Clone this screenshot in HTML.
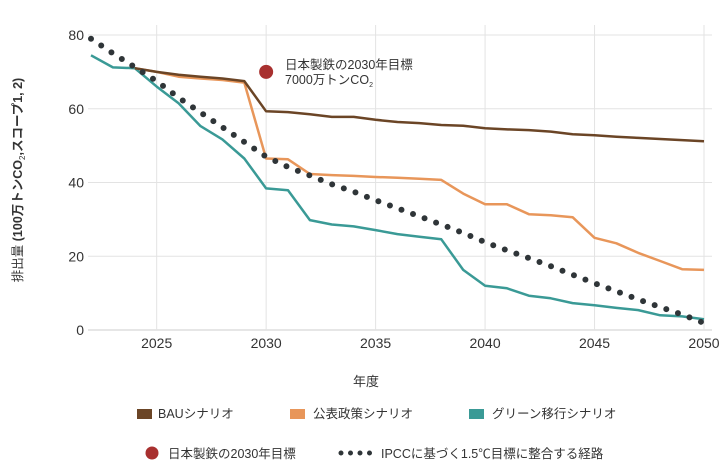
<!DOCTYPE html>
<html><head><meta charset="utf-8"><style>
body{margin:0;background:#fff;font-family:"Liberation Sans","Noto Sans CJK JP",sans-serif;}
svg text{font-family:"Liberation Sans","Noto Sans CJK JP",sans-serif;fill:#333;}
</style></head><body>
<svg id="chart" width="728" height="469">
<g id="grid"></g><g id="axes"></g><g id="series"></g>
<text x="366" y="386" font-size="13" text-anchor="middle">年度</text>
<text transform="translate(22,180) rotate(-90)" font-size="12.5" text-anchor="middle">排出量 <tspan font-weight="bold">(100万トンCO</tspan><tspan font-size="8" dy="3">2</tspan><tspan dy="-3" font-weight="bold">,スコープ1, 2)</tspan></text>
<g id="annotation">
<text x="285" y="69" font-size="12.5">日本製鉄の2030年目標</text>
<text x="285" y="84" font-size="12.5">7000万トンCO<tspan font-size="7" dy="3">2</tspan></text>
</g>
<g>
<rect x="137" y="409" width="15" height="10" fill="#6b4526"/>
<text x="158" y="418" font-size="12.5">BAUシナリオ</text>
<rect x="290" y="409" width="15" height="10" fill="#e8965a"/>
<text x="313" y="418" font-size="12.5">公表政策シナリオ</text>
<rect x="469" y="409" width="15" height="10" fill="#3a9a96"/>
<text x="492" y="418" font-size="12.5">グリーン移行シナリオ</text>
<circle cx="152" cy="453" r="6.5" fill="#a8302f"/>
<text x="168" y="458" font-size="12.5">日本製鉄の2030年目標</text>
<line x1="341" y1="453" x2="372" y2="453" stroke="#2f3538" stroke-width="5" stroke-linecap="round" stroke-dasharray="0 9.5"/>
<text x="381" y="458" font-size="12.5">IPCCに基づく1.5℃目標に整合する経路</text>
</g>
</svg>
<script>
const years=[2022,2023,2024,2025,2026,2027,2028,2029,2030,2031,2032,2033,2034,2035,2036,2037,2038,2039,2040,2041,2042,2043,2044,2045,2046,2047,2048,2049,2050];
const bau=[null,null,71,70,69.2,68.7,68.2,67.5,59.3,59.1,58.5,57.8,57.8,57,56.4,56.1,55.6,55.4,54.7,54.4,54.2,53.8,53.1,52.8,52.4,52.1,51.8,51.5,51.2];
const policy=[null,null,71,70,68.7,68.2,67.8,67.1,46.5,46.3,42.3,42,41.8,41.5,41.3,41,40.7,37,34.1,34.1,31.4,31.1,30.6,25,23.5,20.9,18.7,16.5,16.3];
const green=[74.5,71.2,71,66,61.5,55.3,51.7,46.5,38.4,37.9,29.8,28.6,28.1,27.1,26,25.3,24.6,16.3,12,11.3,9.3,8.6,7.3,6.7,6,5.4,4,3.7,2.9];
const ipcc=[79,75,71.3,67.5,63,59,55,51,47,44.2,41.9,39.5,37.5,35.2,33,30.8,28.6,26.3,23.8,21.6,19.5,17.3,15,12.7,10.5,8.3,6.2,4.2,1.9];
const targetYear=[2030];
const targetValue=[70];
const xTicks=[2025,2030,2035,2040,2045,2050];
const yTicks=[0,20,40,60,80];
const NS="http://www.w3.org/2000/svg";
const x=v=>91+(v-2022)*(704-91)/28;
const y=v=>330-v*(295/80);
function mk(t,a,p){const e=document.createElementNS(NS,t);for(const k in a)e.setAttribute(k,a[k]);p.appendChild(e);return e;}
const grid=document.getElementById('grid'),axes=document.getElementById('axes'),ser=document.getElementById('series');
yTicks.forEach(t=>{
 const l=mk('line',{x1:88,x2:712,y1:y(t),y2:y(t),stroke:t===0?'#ccc':'#e3e3e3','stroke-width':1},grid);
 
 
 const tx=mk('text',{x:84,y:y(t)+5,'font-size':14,'text-anchor':'end'},axes);tx.textContent=t;
 
 
});
xTicks.forEach(t=>{
 const l=mk('line',{x1:x(t),x2:x(t),y1:y(80)-10,y2:y(0),stroke:'#e3e3e3','stroke-width':1},grid);
 
 
 const tx=mk('text',{x:x(t),y:348,'font-size':14,'text-anchor':'middle'},axes);tx.textContent=t;
 
 
});
function path(xs,vs){let d='';xs.forEach((yr,i)=>{if(vs[i]==null)return;d+=(d?'L':'M')+x(yr).toFixed(1)+','+y(vs[i]).toFixed(1);});return d;}
const g=mk('path',{d:path(years,green),fill:'none',stroke:'#3a9a96','stroke-width':2.5,'stroke-linejoin':'round'},ser);


const p=mk('path',{d:path(years,policy),fill:'none',stroke:'#e8965a','stroke-width':2.5,'stroke-linejoin':'round'},ser);


const b=mk('path',{d:path(years,bau),fill:'none',stroke:'#6b4526','stroke-width':2.5,'stroke-linejoin':'round'},ser);


const ip=mk('path',{d:path(years,ipcc),fill:'none',stroke:'#2f3538','stroke-width':6,'stroke-linecap':'round','stroke-dasharray':'0 12.3'},ser);


const c=mk('circle',{cx:x(targetYear[0]),cy:y(targetValue[0]),r:7,fill:'#a8302f'},ser);


</script>
</body></html>
